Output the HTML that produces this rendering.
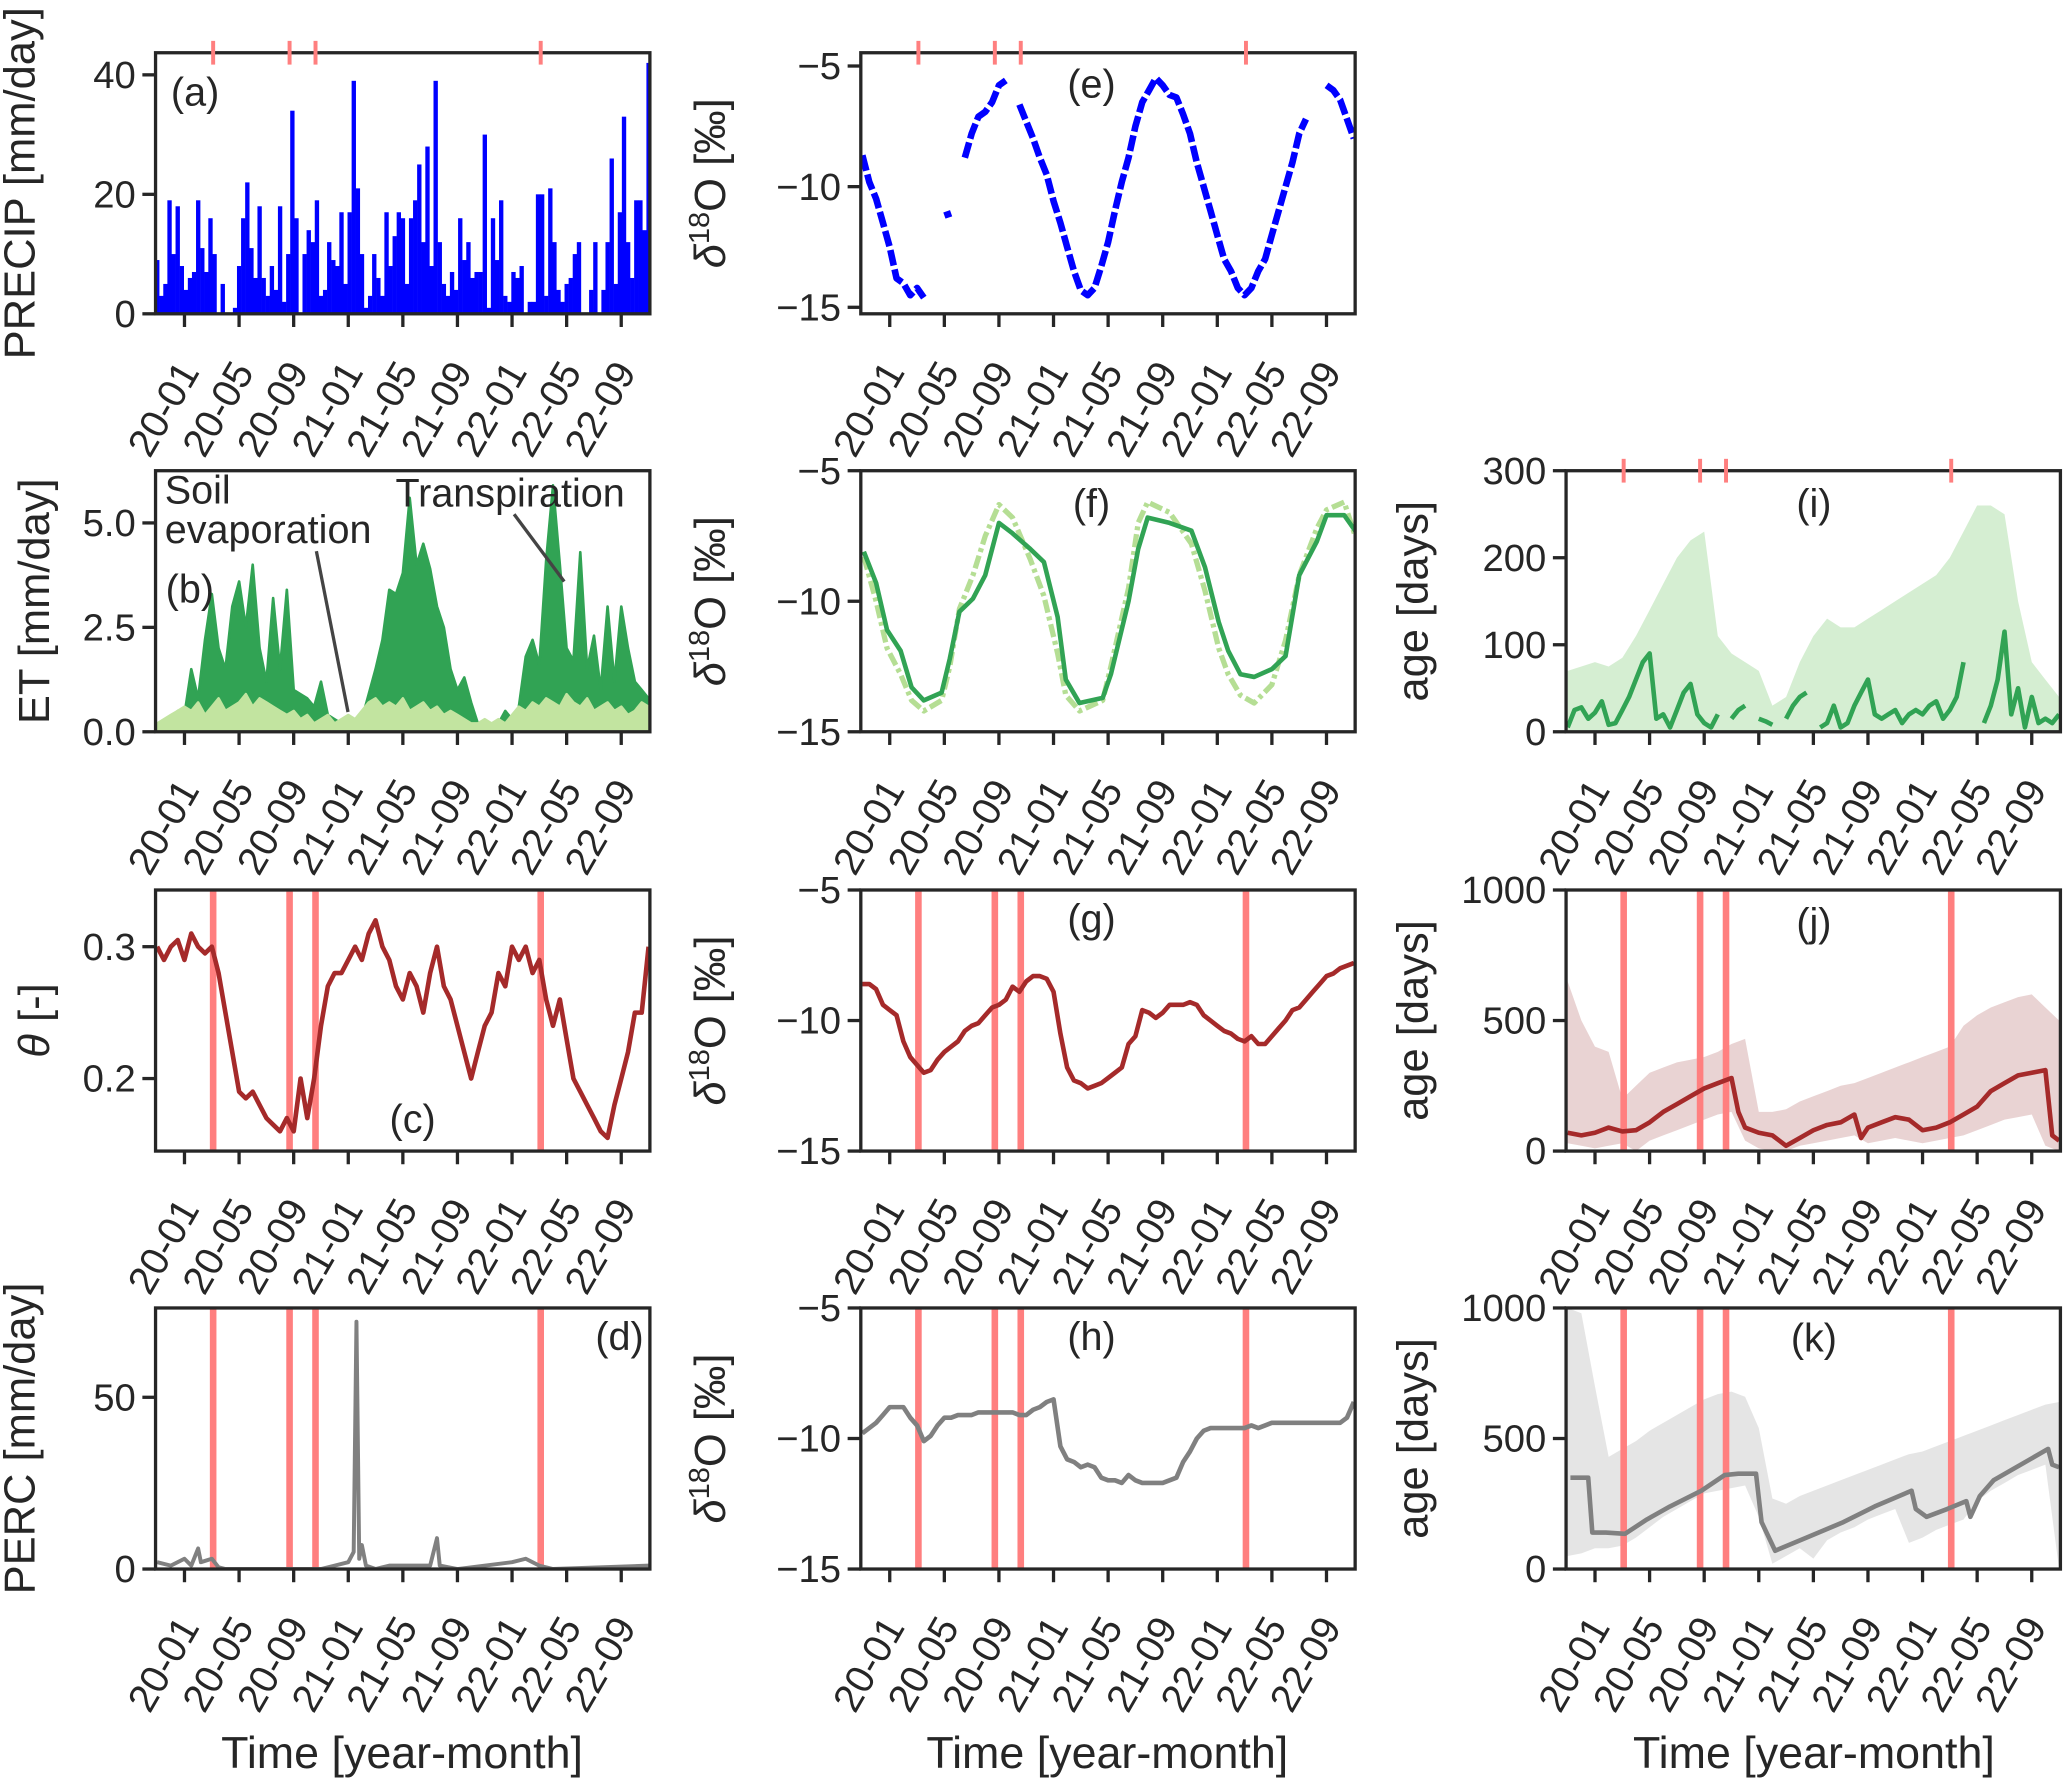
<!DOCTYPE html>
<html><head><meta charset="utf-8">
<style>
html,body{margin:0;padding:0;background:#fff;}
svg{display:block;}
text{font-family:"Liberation Sans",sans-serif;fill:#262626;}
</style></head>
<body>
<svg id="fig" width="2067" height="1780" viewBox="0 0 1568 1350" preserveAspectRatio="none" xmlns="http://www.w3.org/2000/svg"></svg>
<script>
// ---------- data ----------
const tickMonths = [0,4,8,12,16,20,24,28,32];
const tickLabels = ["20-01","20-05","20-09","21-01","21-05","21-09","22-01","22-05","22-09"];
const eventMonths = [2.1, 7.7, 9.6, 26.1];
const grid05 = Array.from({length:73},(_,i)=>-2+i*0.5);
const grid1 = Array.from({length:37},(_,i)=>-2+i);
const precipMonths = Array.from({length:121},(_,i)=>-2+i*0.3);
const precip = [9,3,5,19,10,18,8,4,6,7,19,11,7,16,10,0,5,0,0,1,8,16,22,11,6,18,6,3,8,4,18,2,10,34,16,0,10,14,12,19,3,4,12,9,8,17,5,17,39,21,10,1,3,10,6,3,17,8,13,17,16,5,16,19,25,12,28,8,39,12,5,3,7,4,16,9,12,6,7,7,30,1,16,9,19,3,2,7,6,8,0,2,2,20,20,3,21,12,4,2,5,6,10,12,0,0,4,12,0,4,12,26,5,17,33,12,6,19,19,14,42];
const transp = [0.1,0.2,0.3,0.5,0.4,1.5,0.8,2.2,3.3,2.0,1.5,3.0,3.6,2.5,4.0,2.0,1.2,3.2,1.5,3.4,1.0,0.9,0.8,0.6,1.2,0.4,0.3,0.2,0.3,0.2,0.3,0.9,1.5,2.2,3.4,3.3,3.8,5.6,4.0,4.5,3.9,3.0,2.5,1.5,1.0,1.3,0.7,0.2,0.1,0.1,0.2,0.5,0.3,0.6,1.8,2.2,1.6,4.1,5.9,4.0,2.0,1.7,4.3,1.5,2.3,1.0,3.0,1.2,3.0,2.0,1.2,1.0,0.8];
const soilEvap = [0.2,0.3,0.4,0.5,0.6,0.5,0.7,0.4,0.6,0.8,0.5,0.6,0.7,0.9,0.6,0.8,0.7,0.6,0.5,0.4,0.5,0.3,0.4,0.2,0.3,0.4,0.2,0.3,0.4,0.3,0.5,0.7,0.8,0.6,0.7,0.6,0.8,0.5,0.6,0.7,0.5,0.6,0.4,0.5,0.4,0.3,0.2,0.2,0.3,0.2,0.3,0.2,0.4,0.6,0.5,0.7,0.6,0.8,0.7,0.6,0.9,0.7,0.6,0.8,0.5,0.6,0.7,0.5,0.6,0.4,0.5,0.7,0.6];
const theta = [0.30,0.29,0.30,0.305,0.29,0.31,0.30,0.295,0.30,0.28,0.25,0.22,0.19,0.185,0.19,0.18,0.17,0.165,0.16,0.17,0.16,0.20,0.17,0.20,0.24,0.27,0.28,0.28,0.29,0.30,0.29,0.31,0.32,0.30,0.29,0.27,0.26,0.28,0.27,0.25,0.28,0.30,0.27,0.26,0.24,0.22,0.20,0.22,0.24,0.25,0.28,0.27,0.30,0.29,0.30,0.28,0.29,0.26,0.24,0.26,0.23,0.20,0.19,0.18,0.17,0.16,0.155,0.18,0.20,0.22,0.25,0.25,0.30];
const percMonths = [-2,-1,0,0.5,1,1.2,2,2.5,3,10,11,12,12.4,12.6,12.8,13,13.3,14,15,18,18.5,18.7,20,24,25,26,27,34];
const perc = [2,1,3,1,6,2,3,0.5,0,0,1,2,5,72,3,7,1,0,1,1,9,1,0,2,3,1,0,1];
const d18Oprecip = [-8.7,-9.8,-10.5,-11.5,-12.5,-13.8,-14.0,-14.5,-14.2,-14.6,null,null,-11.2,-11.1,null,-8.8,-7.8,-7.1,-6.9,-6.5,-5.8,-5.6,null,-6.6,-7.3,-8.0,-8.8,-9.5,-10.6,-11.5,-12.5,-13.5,-14.3,-14.5,-14.2,-13.3,-12.3,-11.0,-9.8,-8.8,-7.5,-6.5,-6.0,-5.5,-5.8,-6.2,-6.3,-7.0,-7.8,-9.0,-10.0,-11.0,-12.0,-13.0,-13.5,-14.2,-14.5,-14.2,-13.5,-13.0,-12.0,-11.0,-10.0,-9.0,-7.8,-7.2,null,null,-5.8,-6.0,-6.4,-7.2,-8.0];
const fMonths = [-1.9,-1,-0.2,0.8,1.6,2.5,3.8,4.4,5.1,6.1,7,8,9,10.3,11.3,12.3,12.9,13.9,15.6,16.2,17.5,18.2,18.9,20.5,22.1,23.1,24.1,24.8,25.7,26.7,28,29,30,31.3,32,33.3,34.1];
const d18Otransp = [-8.1,-9.3,-11.1,-11.9,-13.3,-13.8,-13.5,-12.2,-10.4,-9.9,-9.0,-7.0,-7.4,-8.0,-8.5,-10.6,-13.0,-13.9,-13.7,-12.8,-10.0,-8.0,-6.8,-7.0,-7.3,-8.7,-10.8,-11.9,-12.8,-12.9,-12.6,-12.1,-9.0,-7.7,-6.7,-6.7,-7.3];
const d18Oevap = [-8.3,-10.0,-11.8,-12.8,-13.8,-14.2,-13.8,-12.5,-10.3,-9.0,-7.5,-6.3,-6.8,-8.4,-9.8,-12.0,-13.6,-14.2,-13.8,-12.5,-9.5,-7.0,-6.2,-6.6,-7.8,-9.6,-11.8,-12.8,-13.6,-13.9,-13.2,-11.5,-9.0,-7.2,-6.5,-6.2,-7.5];
const d18Osoil = [-8.6,-8.6,-8.8,-9.4,-9.6,-9.8,-10.8,-11.4,-11.7,-12.0,-11.9,-11.5,-11.2,-11.0,-10.8,-10.4,-10.2,-10.1,-9.8,-9.5,-9.4,-9.2,-8.7,-8.9,-8.5,-8.3,-8.3,-8.4,-8.9,-10.5,-11.8,-12.3,-12.4,-12.6,-12.5,-12.4,-12.2,-12.0,-11.8,-10.9,-10.6,-9.6,-9.7,-9.9,-9.7,-9.4,-9.4,-9.4,-9.3,-9.4,-9.8,-10.0,-10.2,-10.4,-10.5,-10.7,-10.8,-10.6,-10.9,-10.9,-10.6,-10.3,-10.0,-9.6,-9.5,-9.2,-8.9,-8.6,-8.3,-8.2,-8.0,-7.9,-7.8];
const d18Operc = [-9.8,-9.6,-9.4,-9.1,-8.8,-8.8,-8.8,-9.2,-9.5,-10.1,-9.9,-9.5,-9.2,-9.2,-9.1,-9.1,-9.1,-9.0,-9.0,-9.0,-9.0,-9.0,-9.0,-9.1,-9.1,-8.9,-8.8,-8.6,-8.5,-10.3,-10.8,-10.9,-11.1,-11.0,-11.1,-11.5,-11.6,-11.6,-11.7,-11.4,-11.6,-11.7,-11.7,-11.7,-11.7,-11.6,-11.5,-10.9,-10.5,-10.0,-9.7,-9.6,-9.6,-9.6,-9.6,-9.6,-9.6,-9.5,-9.6,-9.5,-9.4,-9.4,-9.4,-9.4,-9.4,-9.4,-9.4,-9.4,-9.4,-9.4,-9.4,-9.2,-8.6];
const ageTransp = [5,25,28,15,22,35,8,10,25,40,60,80,90,15,20,5,25,45,55,20,10,5,20,null,15,25,30,null,15,12,8,null,15,30,40,45,null,5,10,30,5,10,30,45,60,20,15,20,25,10,20,25,20,30,35,15,25,40,80,null,null,10,30,60,115,20,50,5,40,10,15,10,20];
const ageTranspHi = [70,75,80,75,85,110,140,170,200,220,230,110,90,80,70,30,40,80,110,130,120,120,130,140,150,160,170,180,200,230,260,260,250,150,80,60,40];
const jMonths = [-2,-1,0,1,2,3,4,5,6,7,8,9,10,10.5,11,12,13,14,15,16,17,18,19,19.5,20,21,22,23,24,25,26,27,28,29,30,31,32,33,33.5,34];
const ageSoil = [70,60,70,90,75,80,110,150,180,210,240,260,280,150,90,70,60,20,50,80,100,110,140,50,90,110,130,120,80,90,110,140,170,230,260,290,300,310,60,40];
const ageSoilHi = [650,500,400,380,200,250,300,320,340,350,360,380,410,430,150,150,160,190,210,230,250,260,280,300,320,340,360,380,400,480,520,550,570,590,600,550,500];
const ageSoilLo = [30,20,10,20,30,0,40,60,80,100,120,140,150,40,10,0,0,20,30,40,50,60,30,40,50,40,30,40,50,60,80,100,120,130,140,20,0];
const kMonths = [-1.8,-0.5,-0.2,0.8,2.2,3.8,5.5,7.8,9.5,10.5,11.8,12.2,13.2,15.5,18.2,20.5,23.2,23.5,24.3,25.8,27.2,27.5,28.2,29.2,33.2,33.5,34];
const agePerc = [350,350,140,140,135,190,240,300,360,365,365,180,70,120,180,240,300,230,200,230,260,200,280,340,460,400,390];
const agePercHi = [1000,980,700,430,460,490,530,560,590,620,650,670,680,660,540,270,250,280,300,320,340,360,380,400,420,440,450,470,490,510,530,550,570,590,610,630,640];
const agePercLo = [50,60,80,80,90,120,160,200,230,260,290,300,310,320,200,20,50,80,40,110,140,160,190,210,230,100,120,150,170,190,260,300,330,360,380,400,0];

// ---------- layout ----------
const NS = "http://www.w3.org/2000/svg";
const svg = document.getElementById("fig");
const colLeft = [118, 653, 1188], rowTop = [40, 357, 675, 992];
const AW = 375, AH = 198, TMIN = -2.12, TMAX = 34.1;
const INK = "#262626", RED = "#ff7f7f";
function el(tag, attrs, parent){ const e=document.createElementNS(NS,tag); for(const k in attrs) e.setAttribute(k,attrs[k]); (parent||svg).appendChild(e); return e; }
function xs(col){ return t => colLeft[col] + (t-TMIN)/(TMAX-TMIN)*AW; }
function ys(row, lo, hi){ return v => rowTop[row] + AH - (v-lo)/(hi-lo)*AH; }

function makeAxes(name, col, row, lo, hi, yt, ytl, ylabel, plabel, plx, ply){
  const g = el("g", {});
  
  
  const x = xs(col), y = ys(row, lo, hi);
  const L = colLeft[col], T = rowTop[row];
  const clipId = "clip-"+name;
  const cp = el("clipPath", {id: clipId}, g);
  el("rect", {x:L, y:T, width:AW, height:AH}, cp);
  const plot = el("g", {"clip-path":"url(#"+clipId+")"}, g);
  
  
  yt.forEach((v,i)=>{
    el("line",{x1:L-10,x2:L,y1:y(v),y2:y(v),stroke:INK,"stroke-width":2.5},g);
    const tx = el("text",{x:L-15,y:y(v)+10,"text-anchor":"end","font-size":29},g);
    tx.textContent = ytl[i];
    
    
  });
  tickMonths.forEach((m,i)=>{
    el("line",{x1:x(m),x2:x(m),y1:T+AH,y2:T+AH+10,stroke:INK,"stroke-width":2.5},g);
    const tx = el("text",{x:0,y:0,"text-anchor":"end","font-size":30,transform:`translate(${x(m)+12},${T+AH+44}) rotate(-60)`},g);
    tx.textContent = tickLabels[i];
    
    
  });
  const yl = el("text",{"text-anchor":"middle","font-size":33,transform:`translate(${col===0?(row===1||row===2?37:26):(col===1?550:1083)},${T+AH/2}) rotate(-90)`},g);
  yl.innerHTML = ylabel;
  
  
  const pl = el("text",{x:plx,y:ply,"text-anchor":"middle","font-size":30},g);
  pl.textContent = plabel;
  
  
  return {g, plot, x, y, L, T};
}
function frame(ax){
  const r = el("rect",{x:ax.L,y:ax.T,width:AW,height:AH,fill:"none",stroke:INK,"stroke-width":2.5},ax.g);
  
  
}
function pathFrom(ts, vs, x, y){
  let d="", pen=false;
  ts.forEach((t,i)=>{ const v=vs[i]; if(v===null){pen=false;return;} d += (pen?"L":"M")+x(t).toFixed(1)+","+y(v).toFixed(1); pen=true; });
  return d;
}
function line(ax, ts, vs, color, w, name, extra){
  const p = el("path", Object.assign({d:pathFrom(ts,vs,ax.x,ax.y),fill:"none",stroke:color,"stroke-width":w,"stroke-linejoin":"round"}, extra||{}), ax.plot);
  
  
  return p;
}
function band(ax, ts, lo, hi, color, op, name){
  let d = "";
  ts.forEach((t,i)=>{ d += (i?"L":"M")+ax.x(t).toFixed(1)+","+ax.y(hi[i]).toFixed(1); });
  for(let i=ts.length-1;i>=0;i--) d += "L"+ax.x(ts[i]).toFixed(1)+","+ax.y(lo[i]).toFixed(1);
  const p = el("path",{d:d+"Z",fill:color,"fill-opacity":op,stroke:"none"},ax.plot);
  
  
}
function area(ax, ts, vs, color, name){
  let d = "M"+ax.x(ts[0]).toFixed(1)+","+ax.y(0).toFixed(1);
  ts.forEach((t,i)=>{ d += "L"+ax.x(t).toFixed(1)+","+ax.y(vs[i]).toFixed(1); });
  d += "L"+ax.x(ts[ts.length-1]).toFixed(1)+","+ax.y(0).toFixed(1)+"Z";
  const p = el("path",{d:d,fill:color,stroke:color,"stroke-width":2,"stroke-linejoin":"round"},ax.plot);
  
  
}
function eventLines(ax){
  eventMonths.forEach(m=>{
    const l = el("line",{x1:ax.x(m),x2:ax.x(m),y1:ax.T,y2:ax.T+AH,stroke:RED,"stroke-width":5},ax.plot);
    
    
  });
}
function eventTicks(ax){
  eventMonths.forEach(m=>{
    const l = el("line",{x1:ax.x(m),x2:ax.x(m),y1:ax.T-9,y2:ax.T+9,stroke:RED,"stroke-width":3},ax.g);
    
    
  });
}
const D18 = '<tspan font-style="italic">δ</tspan><tspan baseline-shift="super" font-size="22">18</tspan>O [‰]';

const A = makeAxes("panel-a-precip",0,0,0,43.7,[0,20,40],["0","20","40"],"PRECIP [mm/day]","(a)",148,80);
precipMonths.forEach((t,i)=>{
  const r = el("rect",{x:A.x(t)-1.6,y:A.y(precip[i]),width:3.3,height:A.y(0)-A.y(precip[i]),fill:"#0000ff"},A.plot);
  
  
});
frame(A); eventTicks(A);

const B = makeAxes("panel-b-et",0,1,0,6.25,[0,2.5,5],["0.0","2.5","5.0"],"ET [mm/day]","(b)",144,457);
area(B, grid05, transp, "#31a354", "transpiration-series");
area(B, grid05, soilEvap, "#c2e4a0", "soil-evaporation-series");
frame(B);
[["Soil",125,382],["evaporation",125,412],["Transpiration",300,384]].forEach(([s,x,y])=>{
  const t = el("text",{x:x,y:y,"font-size":30},B.g); t.textContent=s;
  
  
});
const an1 = el("line",{x1:240,y1:418,x2:264,y2:540,stroke:"#444","stroke-width":2.5},B.g);


const an2 = el("line",{x1:390,y1:390,x2:428,y2:441,stroke:"#444","stroke-width":2.5},B.g);



const C = makeAxes("panel-c-theta",0,2,0.145,0.343,[0.2,0.3],["0.2","0.3"],"<tspan font-style='italic'>θ</tspan> [-]","(c)",313,859);
eventLines(C);
line(C, grid05, theta, "#a52a2a", 3.5, "soil-moisture-line");
frame(C);

const Dp = makeAxes("panel-d-perc",0,3,0,76,[0,50],["0","50"],"PERC [mm/day]","(d)",470,1024);
eventLines(Dp);
line(Dp, percMonths, perc, "#808080", 3, "percolation-line");
frame(Dp);

const E = makeAxes("panel-e-d18o-precip",1,0,-15.27,-4.45,[-15,-10,-5],["−15","−10","−5"],D18,"(e)",828,74);
line(E, grid05, d18Oprecip, "#0000ff", 5, "precip-d18o-series", {"stroke-dasharray":"12 3"});
frame(E); eventTicks(E);

const F = makeAxes("panel-f-d18o-et",1,1,-15,-5,[-15,-10,-5],["−15","−10","−5"],D18,"(f)",828,392);
line(F, fMonths, d18Oevap, "#b5de94", 4, "evaporation-d18o-series", {"stroke-dasharray":"10 3 3 3"});
line(F, fMonths, d18Otransp, "#31a354", 3.5, "transpiration-d18o-series");
frame(F);

const G = makeAxes("panel-g-d18o-soil",1,2,-15,-5,[-15,-10,-5],["−15","−10","−5"],D18,"(g)",828,707);
eventLines(G);
line(G, grid05, d18Osoil, "#a52a2a", 3.5, "soil-d18o-line");
frame(G);

const H = makeAxes("panel-h-d18o-perc",1,3,-15,-5,[-15,-10,-5],["−15","−10","−5"],D18,"(h)",828,1024);
eventLines(H);
line(H, grid05, d18Operc, "#808080", 3.5, "perc-d18o-line");
frame(H);

const I = makeAxes("panel-i-age-transp",2,1,0,300,[0,100,200,300],["0","100","200","300"],"age [days]","(i)",1376,392);
band(I, grid1, grid1.map(()=>0), ageTranspHi, "#a1d99b", 0.45, "transp-age-band");
line(I, grid05, ageTransp, "#31a354", 3.5, "transp-age-line");
frame(I); eventTicks(I);

const J = makeAxes("panel-j-age-soil",2,2,0,1000,[0,500,1000],["0","500","1000"],"age [days]","(j)",1376,710);
band(J, grid1, ageSoilLo, ageSoilHi, "#c08080", 0.35, "soil-age-band");
eventLines(J);
line(J, jMonths, ageSoil, "#a52a2a", 3.5, "soil-age-line");
frame(J);

const K = makeAxes("panel-k-age-perc",2,3,0,1000,[0,500,1000],["0","500","1000"],"age [days]","(k)",1376,1025);
band(K, grid1, agePercLo, agePercHi, "#bdbdbd", 0.4, "perc-age-band");
eventLines(K);
line(K, kMonths, agePerc, "#808080", 3.5, "perc-age-line");
frame(K);

[305,840,1376].forEach(cx=>{
  const t = el("text",{x:cx,y:1341,"text-anchor":"middle","font-size":34});
  t.textContent = "Time [year-month]";
  
  
});
</script>
</body></html>
